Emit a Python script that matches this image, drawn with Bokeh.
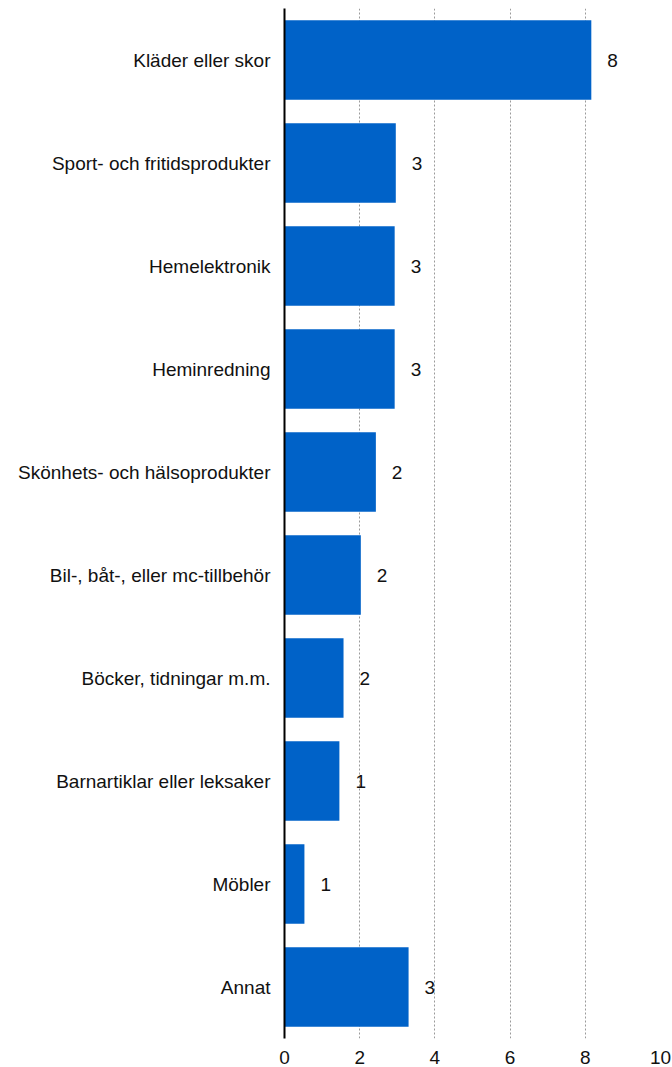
from bokeh.plotting import figure
from bokeh.models import Range1d, FactorRange, ColumnDataSource, FixedTicker
from bokeh.core.properties import value
from bokeh.embed import file_html
from bokeh.resources import INLINE

categories = ["Kläder eller skor", "Sport- och fritidsprodukter", "Hemelektronik",
              "Heminredning", "Skönhets- och hälsoprodukter", "Bil-, båt-, eller mc-tillbehör",
              "Böcker, tidningar m.m.", "Barnartiklar eller leksaker", "Möbler", "Annat"]
values = [8.16, 2.96, 2.93, 2.93, 2.43, 2.03, 1.57, 1.46, 0.53, 3.30]
labels = ["8", "3", "3", "3", "2", "2", "2", "1", "1", "3"]
x_ticks = [0, 2, 4, 6, 8, 10]

FONT = "Liberation Sans"
BLUE = "#0062c8"

src = ColumnDataSource(dict(cat=categories, val=values, lab=labels))

p = figure(y_range=FactorRange(*reversed(categories)), x_range=Range1d(0, 10),
           width=672, height=1066, output_backend="svg", toolbar_location=None,
           min_border_left=284, min_border_right=12, min_border_top=8, min_border_bottom=28)
p.outline_line_color = None

p.hbar(y="cat", right="val", left=0, height=0.77, source=src, fill_color=BLUE, line_color=None)
p.text(x="val", y="cat", text="lab", source=src, x_offset=16, text_align="left",
       text_baseline="middle", text_font=value(FONT), text_font_size="19px", text_color="#111111")

p.xaxis.ticker = FixedTicker(ticks=x_ticks)
p.xaxis.axis_line_color = None
p.xaxis.major_tick_line_color = None
p.xaxis.minor_tick_line_color = None
p.xaxis.major_label_text_font = FONT
p.xaxis.major_label_text_font_size = "19px"
p.xaxis.major_label_text_color = "#111111"
p.xaxis.major_label_standoff = 6

p.yaxis.axis_line_color = "#000000"
p.yaxis.axis_line_width = 2
p.yaxis.major_tick_line_color = None
p.yaxis.minor_tick_line_color = None
p.yaxis.major_label_text_font = FONT
p.yaxis.major_label_text_font_size = "19px"
p.yaxis.major_label_text_color = "#111111"
p.yaxis.major_label_standoff = 8

p.ygrid.grid_line_color = None
p.xgrid.grid_line_color = "#9a9a9a"
p.xgrid.grid_line_dash = "2 2"
p.xgrid.grid_line_width = 1

open("out.html", "w").write(file_html(p, INLINE))
